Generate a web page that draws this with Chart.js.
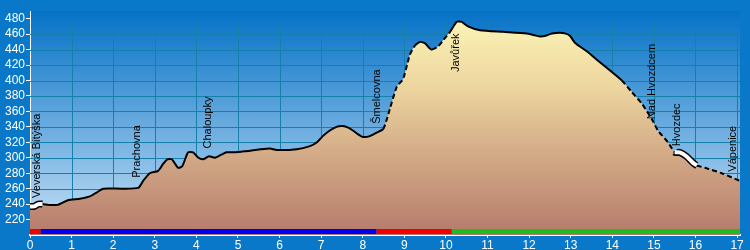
<!DOCTYPE html>
<html>
<head>
<meta charset="utf-8">
<script src="https://cdn.jsdelivr.net/npm/chart.js@4"></script>
<style>
html, body { margin: 0; padding: 0; background: #0a78c8; }
</style>
</head>
<body>
<canvas id="profileChart" width="750" height="250"></canvas>
<script>
// profile data (km, m)
const distanceKm = [0, 0.1, 0.2, 0.3, 0.45, 0.67, 0.91, 1.2, 1.44, 1.6, 1.76, 2.2, 2.6, 2.72, 2.88, 3.08, 3.2, 3.3, 3.41, 3.56,
  3.66, 3.8, 3.92, 4.05, 4.16, 4.3, 4.45, 4.6, 4.73, 4.88, 5.1, 5.29, 5.55, 5.77, 5.93, 6.41, 6.73, 6.9, 7.04, 7.2,
  7.37, 7.52, 7.65, 7.77, 7.9, 8.0, 8.17, 8.35, 8.49, 8.58, 8.65, 8.82, 8.97, 9.13, 9.25, 9.38, 9.5, 9.6, 9.66, 9.81,
  9.93, 10.1, 10.26, 10.38, 10.53, 10.82, 11.37, 11.94, 12.1, 12.26, 12.4, 12.55, 12.74, 12.86, 12.98, 13.1, 13.41, 13.65, 13.99, 14.23,
  14.47, 14.71, 14.95, 15.1, 15.34, 15.5, 15.62, 15.78, 15.93, 16.03, 16.23, 16.63, 17.07];
const elevationM = [237, 237, 240, 240, 239, 239, 245, 247, 250, 255, 260, 260, 261, 270, 280, 283, 292, 298, 298, 287,
  289, 307, 307, 300, 298, 302, 300, 304, 307, 307, 308, 309, 311, 312, 310, 311, 315, 320, 328, 335,
  340, 341, 339, 335, 330, 327, 328, 333, 337, 350, 363, 392, 402, 433, 445, 450, 448, 442, 440, 444,
  452, 463, 476, 476, 470, 465, 463, 461, 459, 457, 458, 461, 462, 461, 458, 449, 437, 426, 411, 400,
  385, 370, 350, 335, 320, 307, 307, 302, 294, 290, 287, 280, 270];

// places along the route
const placeNames = ['Veverská Bítýška', 'Prachovna', 'Chaloupky', 'Šmelcovna', 'Javůřek', 'Nad Hvozdcem', 'Hvozdec', 'Vápenice'];
const placeKm = [0.17, 2.58, 4.29, 8.34, 10.24, 14.96, 15.56, 16.91];
const placeLabelElev = [248, 274, 312, 344, 411, 350, 315, 282];

// coloured route sections along the bottom
const routeFrom = [0, 0.25, 8.33, 10.14];
const routeTo = [0.25, 8.33, 10.14, 17.07];
const routeColors = ['#f00000', '#0000f0', '#f00000', '#20bb20'];

const xTicks = [0, 1, 2, 3, 4, 5, 6, 7, 8, 9, 10, 11, 12, 13, 14, 15, 16, 17];
const yTicks = [220, 240, 260, 280, 300, 320, 340, 360, 380, 400, 420, 440, 460, 480];

// line styling ranges
const dashedRanges = [[8.45, 9.2], [9.7, 10.15], [14.15, 15.5], [16.03, 17.1]];
const whiteRanges = [[0, 0.3], [15.5, 16.03]];

const FONT = "'Liberation Sans', Arial, sans-serif";
const GRID_COLOR = '#1580aa';
const BAR_ELEV = 204.5;
const GRID_TOP_ELEV = 476;

function inRanges(ranges, ctx) {
  const mid = (ctx.p0.parsed.x + ctx.p1.parsed.x) / 2;
  return ranges.some(r => mid >= r[0] && mid <= r[1]);
}

const profilePoints = distanceKm.map((km, i) => ({ x: km, y: elevationM[i] }));

var datasets = [];
// area under the profile
datasets.push({
  data: profilePoints,
  order: 4,
  borderWidth: 0,
  pointRadius: 0,
  tension: 0.2,
  fill: 'start',
  backgroundColor: (c) => {
    const a = c.chart.chartArea;
    if (!a) return '#d8b890';
    const g = c.chart.ctx.createLinearGradient(0, a.top, 0, a.bottom);
    g.addColorStop(0.05, '#fbf3b5');
    g.addColorStop(0.35, '#ecd49e');
    g.addColorStop(0.6, '#d6b08a');
    g.addColorStop(1, '#b57a6b');
    return g;
  }
});
// profile outline
datasets.push({
  data: profilePoints,
  order: 3,
  borderColor: '#000',
  borderWidth: 2,
  pointRadius: 0,
  tension: 0.2,
  fill: false,
  segment: {
    borderDash: ctx => inRanges(dashedRanges, ctx) ? [5, 3] : undefined,
    borderWidth: ctx => inRanges(whiteRanges, ctx) ? 7 : undefined
  }
});

whiteRanges.forEach(r => {
  datasets.push({
    data: profilePoints.filter(p => p.x >= r[0] && p.x <= r[1]),
    order: 1,
    borderColor: '#fff',
    borderWidth: 4,
    pointRadius: 0,
    tension: 0.2,
    fill: false
  });
});

routeFrom.forEach((from, i) => {
  datasets.push({
    data: [{ x: from, y: BAR_ELEV }, { x: routeTo[i], y: BAR_ELEV }],
    order: 2,
    borderColor: routeColors[i],
    borderWidth: 5,
    borderCapStyle: 'butt',
    pointRadius: 0,
    fill: false
  });
});

const backgroundPlugin = {
  id: 'plotBackground',
  beforeDraw(chart) {
    const { ctx, chartArea: a } = chart;
    const g = ctx.createLinearGradient(0, a.top, 0, a.bottom);
    g.addColorStop(0, '#0572c6');
    g.addColorStop(1, '#c8e2f6');
    ctx.save();
    ctx.fillStyle = g;
    ctx.fillRect(a.left, a.top, a.right - a.left, a.bottom - a.top);
    ctx.restore();
  }
};

const gridPlugin = {
  id: 'plotGrid',
  beforeDatasetsDraw(chart) {
    const { ctx, chartArea: a, scales: { x, y } } = chart;
    const top = y.getPixelForValue(GRID_TOP_ELEV);
    ctx.save();
    ctx.strokeStyle = GRID_COLOR;
    ctx.lineWidth = 1;
    ctx.beginPath();
    xTicks.slice(1).forEach(k => {
      const px = Math.round(x.getPixelForValue(k)) + 0.5;
      ctx.moveTo(px, top);
      ctx.lineTo(px, a.bottom);
    });
    yTicks.filter(v => v < GRID_TOP_ELEV).forEach(v => {
      const py = Math.round(y.getPixelForValue(v)) + 0.5;
      ctx.moveTo(a.left, py);
      ctx.lineTo(a.right, py);
    });
    ctx.stroke();
    ctx.restore();
  }
};

const placesPlugin = {
  id: 'placeLabels',
  afterDatasetsDraw(chart) {
    const { ctx, scales: { x, y } } = chart;
    ctx.save();
    ctx.fillStyle = '#000';
    ctx.font = '11px ' + FONT;
    ctx.textAlign = 'left';
    ctx.textBaseline = 'middle';
    placeNames.forEach((name, i) => {
      ctx.save();
      ctx.translate(x.getPixelForValue(placeKm[i]), y.getPixelForValue(placeLabelElev[i]));
      ctx.rotate(-Math.PI / 2);
      ctx.fillText(name, 0, 0);
      ctx.restore();
    });
    ctx.restore();
  }
};

const canvas = document.getElementById('profileChart');
new Chart(canvas.getContext('2d'), {
  type: 'line',
  data: { datasets: datasets },
  plugins: [backgroundPlugin, gridPlugin, placesPlugin],
  options: {
    responsive: false,
    animation: false,
    layout: { padding: { top: 11, right: 10, left: 0, bottom: 0 } },
    plugins: { legend: { display: false }, tooltip: { enabled: false } },
    scales: {
      x: {
        type: 'linear',
        min: 0,
        max: 17.07,
        z: 1,
        afterBuildTicks: s => { s.ticks = xTicks.map(v => ({ value: v })); },
        afterFit: s => { s.height = 15; },
        ticks: { color: '#fff', font: { family: FONT, size: 12 }, padding: 0, maxRotation: 0, autoSkip: false },
        grid: { drawOnChartArea: false, color: '#fff', tickLength: 3 },
        border: { color: '#fff', width: 2 }
      },
      y: {
        min: 200,
        max: 490,
        z: 1,
        afterBuildTicks: s => { s.ticks = yTicks.map(v => ({ value: v })); },
        afterFit: s => { s.width = 30; },
        ticks: { color: '#fff', font: { family: FONT, size: 12 }, padding: 1, autoSkip: false },
        grid: { drawOnChartArea: false, color: '#fff', tickLength: 4 },
        border: { color: '#fff', width: 1 }
      }
    }
  }
});
</script>
</body>
</html>
